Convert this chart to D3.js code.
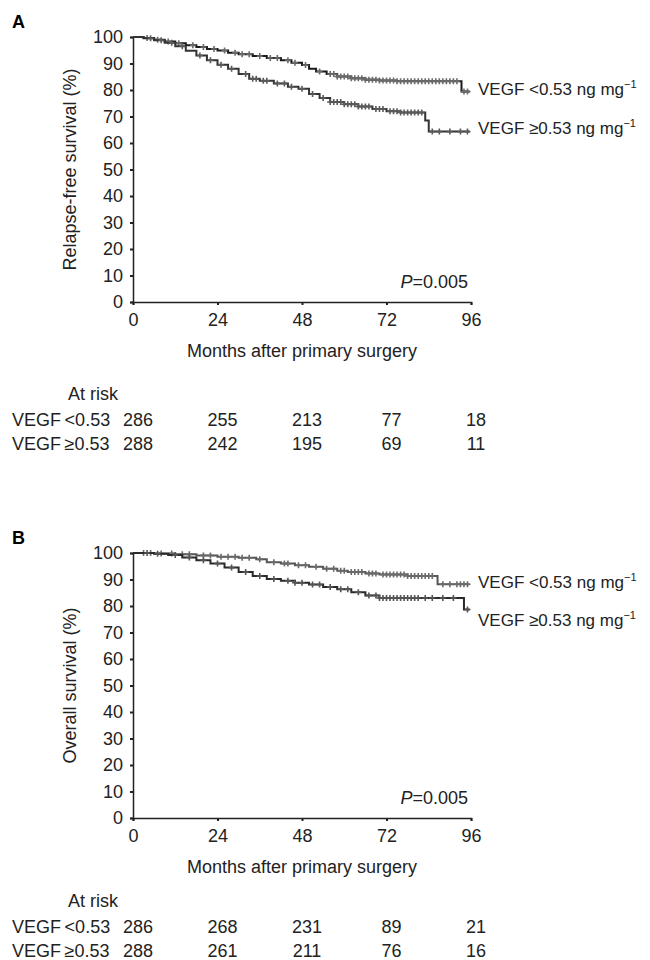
<!DOCTYPE html>
<html>
<head>
<meta charset="utf-8">
<script src="https://cdn.jsdelivr.net/npm/d3@7"></script>
<style>
  body{margin:0;background:#fff;}
  svg{display:block;font-family:"Liberation Sans",Arial,sans-serif;}
</style>
</head>
<body>
<div id="chart"></div>
<script>
// time points (months) and tick labels
const xTicks = [0,24,48,72,96];
const yTicks = [0,10,20,30,40,50,60,70,80,90,100];
const riskTimes = [0,24,48,72,96];

// panel A : relapse-free survival, step points [month, %]
const rfsLow  = [[0,100],[3,99.6],[6,99],[9,98.3],[12,97.6],[15,96.9],[18,96.2],[21,95.5],[24,94.9],[27,94.1],[30,93.5],[34,92.8],[38,92.1],[42,91.2],[45,90.3],[48,89.4],[50,88],[52,87],[55,86],[58,85.1],[62,84.4],[66,83.9],[70,83.6],[75,83.3],[93.3,79.4],[95.6,79.4]];
const rfsHigh = [[0,100],[3,99.5],[6,98.8],[9,97.8],[12,96.5],[15,94.8],[18,93],[21,91.2],[24,89.5],[27,88],[30,86],[33,84.2],[36,83.5],[40,82.5],[44,81.2],[47,80.5],[50,78.5],[53,77],[56,75.5],[60,74.6],[64,73.8],[68,72.8],[72,72],[76,71.5],[83,68.5],[84,64.3],[95.6,64.3]];
const rfsLowCens  = [4,7,10,13,17,20,23,26,29,31,33,36,39,41,44,46,49,53,56,57,58,59,60,61,62,63,64,65,66,67,68,69,70,71,72,73,74,75,76,77,78,79,80,81,82,83,84,85,86,87,88,89,90,91,92,94,95];
const rfsHighCens = [5,8,11,14,19,22,25,28,32,34,35,37,38,41,43,45,48,51,54,56,57,58,59,60,61,62,63,64,65,66,67,69,70,71,73,74,75,76,77,78,79,80,81,82,85,87,90,93,95];
const rfsRiskLow  = [286,255,213,77,18];
const rfsRiskHigh = [288,242,195,69,11];

// panel B : overall survival
const osLow  = [[0,100],[6,99.8],[12,99.5],[18,99.1],[24,98.6],[30,98.2],[35,97.6],[38,96.5],[42,96],[46,95.4],[50,94.8],[54,94.1],[58,93.3],[61,92.8],[66,92.3],[70,91.9],[78,91.3],[86.5,88.2],[95.6,88.2]];
const osHigh = [[0,100],[6,99.7],[10,99.2],[14,98.3],[18,97.3],[22,96],[26,94.5],[30,92.8],[34,91.3],[38,90.2],[42,89.5],[46,88.8],[50,88.1],[54,87.2],[58,86.3],[62,85.2],[66,84],[70,83],[94,78.7],[95.6,78.7]];
const osLowCens  = [3,5,8,11,14,16,20,22,25,27,29,31,33,36,40,43,44,47,49,52,55,57,59,60,62,63,64,65,67,68,69,71,72,73,74,75,76,77,78,79,80,81,82,83,84,85,88,90,92,93,94,95];
const osHighCens = [4,7,12,16,20,24,28,32,36,40,44,46,48,51,53,56,59,61,64,67,69,70,71,72,73,74,75,76,77,78,79,80,81,83,85,88,91,95];
const osRiskLow  = [286,268,231,89,21];
const osRiskHigh = [288,261,211,76,16];

const groupNames = ["VEGF\u2009<0.53","VEGF\u2009\u22650.53"];
const legendNames = ["VEGF <0.53 ng mg","VEGF \u22650.53 ng mg"];

const svg = d3.select("#chart").append("svg")
  .attr("width",650).attr("height",960);

function survAt(steps,t){
  let v = steps[0][1];
  for(const s of steps){ if(s[0]<=t) v = s[1]; }
  return v;
}

function drawPanel(o){
  const x = d3.scaleLinear().domain([0,96]).range([133,471]);
  const y = d3.scaleLinear().domain([0,100]).range([o.top+265,o.top]);

  svg.append("text")
    .attr("x",12).attr("y",o.top-9)
    .attr("font-size",18).attr("font-weight","bold")
    .text(o.letter);

  const xAxis = svg.append("g")
    .attr("transform",`translate(0,${y(0)})`)
    .call(d3.axisBottom(x).tickValues(xTicks).tickSize(3).tickPadding(8));
  const yAxis = svg.append("g")
    .attr("transform",`translate(${x(0)},0)`)
    .call(d3.axisLeft(y).tickValues(yTicks).tickSize(3).tickPadding(7));
  [xAxis,yAxis].forEach(a=>{
    a.selectAll("text").attr("font-size",18).attr("fill","#222").attr("font-family","Liberation Sans, Arial, sans-serif");
    a.select(".domain").attr("stroke","#222").attr("stroke-width",1.5);
    a.selectAll(".tick line").attr("stroke","#222").attr("stroke-width",2);
  });

  svg.append("text")
    .attr("transform",`translate(70,${(y(0)+y(100))/2})rotate(-90)`)
    .attr("text-anchor","middle").attr("dy","0.35em")
    .attr("font-size",18).attr("fill","#222")
    .text(o.yLabel);

  svg.append("text")
    .attr("x",x(48)).attr("y",y(0)+49).attr("dy","0.35em")
    .attr("text-anchor","middle").attr("font-size",18).attr("fill","#222")
    .text("Months after primary surgery");

  const line = d3.line()
    .curve(d3.curveStepAfter)
    .x(d=>x(d[0]))
    .y(d=>y(d[1]));

  o.curves.forEach(c=>{
    svg.append("path")
      .datum(c.steps)
      .attr("fill","none")
      .attr("stroke",c.color)
      .attr("stroke-width",2)
      .attr("d",line);
    svg.append("g").selectAll("path")
      .data(c.cens)
      .join("path")
      .attr("transform",t=>`translate(${x(t)},${y(survAt(c.steps,t))})`)
      .attr("d","M-3,0H3M0,-3V3")
      .attr("stroke",c.markColor)
      .attr("stroke-width",1.6);

    const lab = svg.append("text")
      .attr("x",478).attr("y",c.labelY).attr("dy","0.35em")
      .attr("font-size",17).attr("fill","#222")
      .text(c.legend);
    lab.append("tspan").attr("dy",-7).attr("font-size",11).text("\u22121");
  });

  const p = svg.append("text")
    .attr("x",468).attr("y",o.pY).attr("dy","0.35em")
    .attr("text-anchor","end").attr("font-size",18).attr("fill","#222");
  p.append("tspan").attr("font-style","italic").text("P");
  p.append("tspan").text("=0.005");

  // at risk table
  svg.append("text")
    .attr("x",68).attr("y",o.riskTop).attr("dy","0.35em")
    .attr("font-size",18).attr("fill","#222")
    .text("At risk");
  o.risk.forEach((row,i)=>{
    const ry = o.riskTop+26+i*24;
    svg.append("text")
      .attr("x",12).attr("y",ry).attr("dy","0.35em")
      .attr("font-size",18).attr("fill","#222")
      .text(groupNames[i]);
    svg.append("g").selectAll("text")
      .data(row)
      .join("text")
      .attr("x",(d,j)=>x(riskTimes[j])+5)
      .attr("y",ry).attr("dy","0.35em")
      .attr("text-anchor","middle")
      .attr("font-size",18).attr("fill","#222")
      .text(d=>d);
  });
}

drawPanel({
  letter:"A", top:37, yLabel:"Relapse-free survival (%)", pY:282, riskTop:394,
  curves:[
    {steps:rfsLow, cens:rfsLowCens, color:"#1a1a1a", markColor:"#6a6a6a", legend:legendNames[0], labelY:89},
    {steps:rfsHigh, cens:rfsHighCens, color:"#333", markColor:"#5a5a5a", legend:legendNames[1], labelY:128}
  ],
  risk:[rfsRiskLow,rfsRiskHigh]
});

drawPanel({
  letter:"B", top:553, yLabel:"Overall survival (%)", pY:798, riskTop:901,
  curves:[
    {steps:osLow, cens:osLowCens, color:"#555", markColor:"#6a6a6a", legend:legendNames[0], labelY:582},
    {steps:osHigh, cens:osHighCens, color:"#2a2a2a", markColor:"#555", legend:legendNames[1], labelY:620}
  ],
  risk:[osRiskLow,osRiskHigh]
});
</script>
</body>
</html>
